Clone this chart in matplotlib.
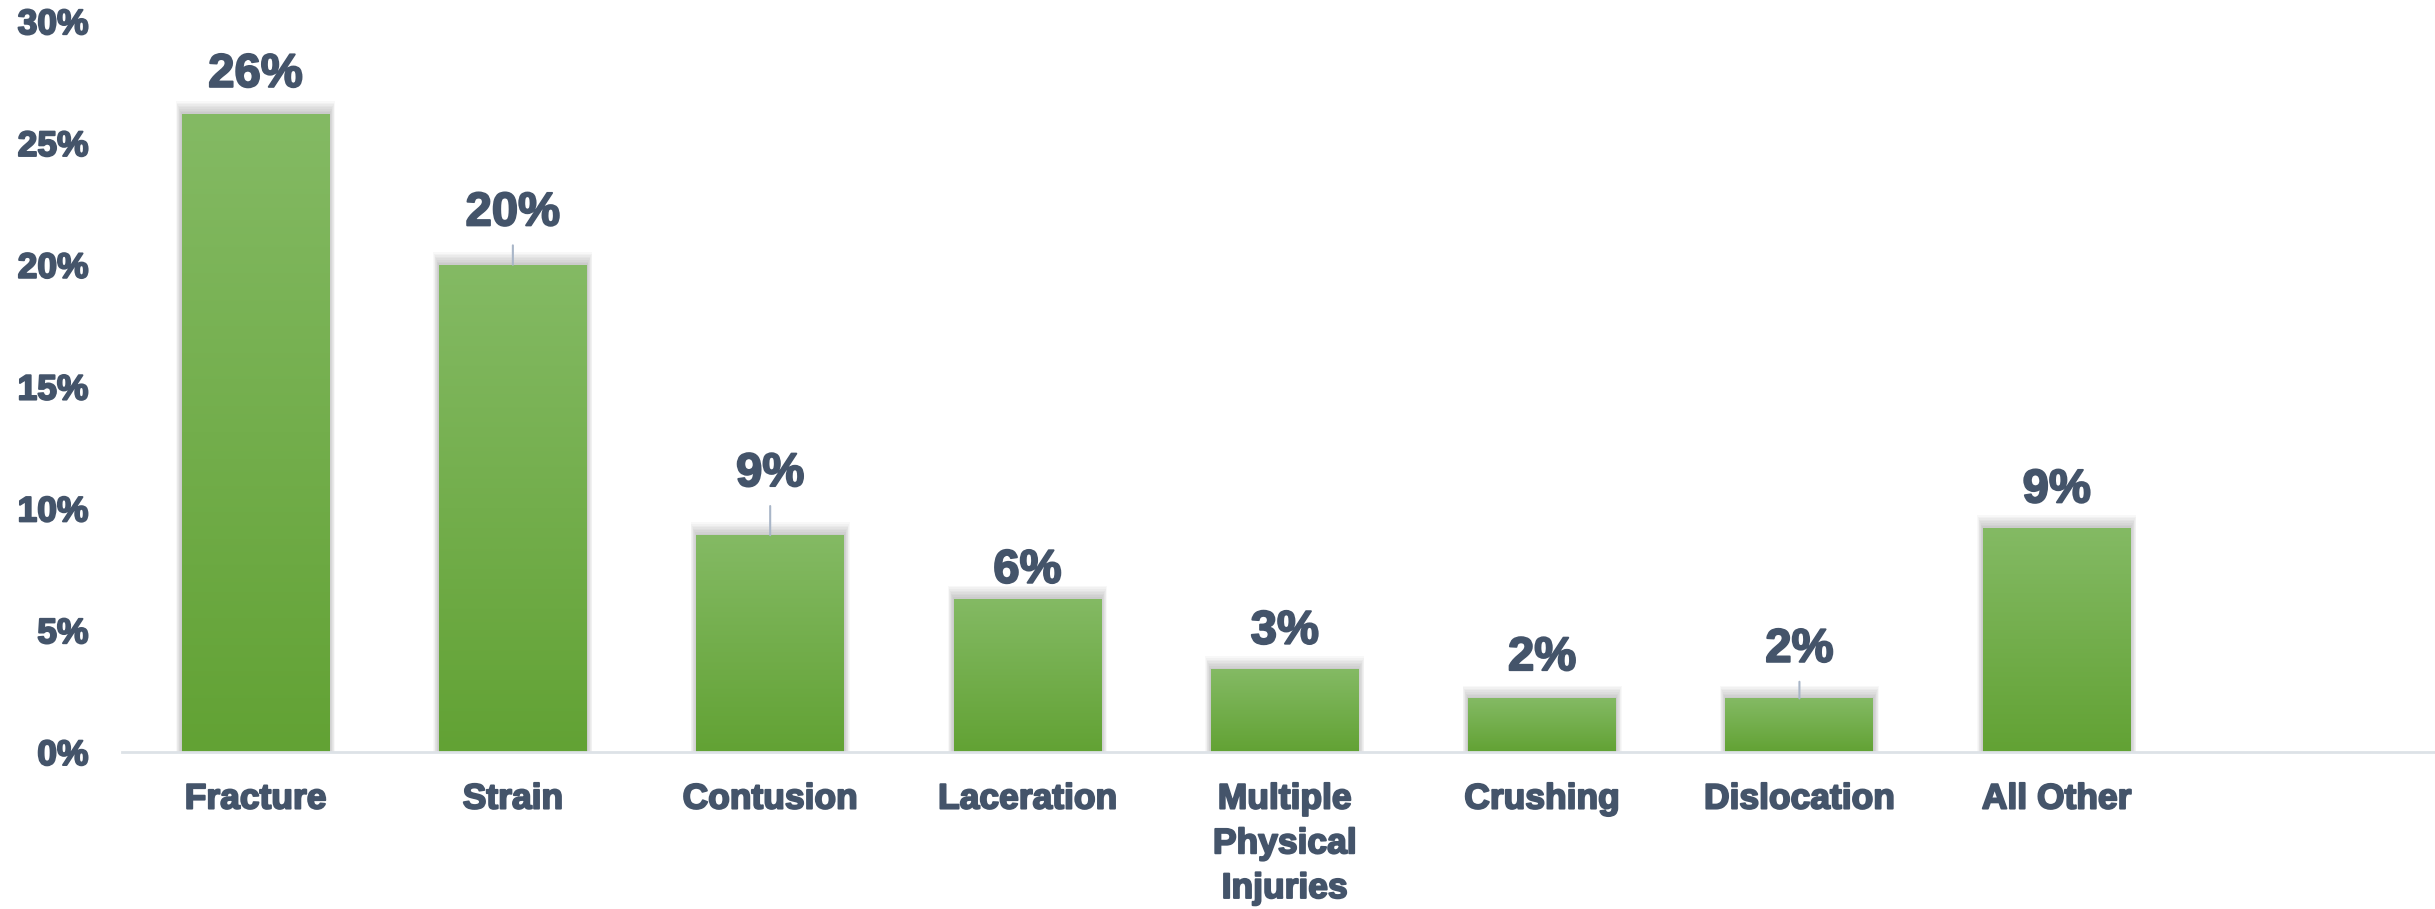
#!/usr/bin/env python
# -*- coding: utf-8 -*-

"""
Injury type share, bar chart with data labels.
"""

import numpy
import matplotlib
matplotlib.use('Agg')
import matplotlib.pyplot as plt
import matplotlib.patheffects as pe
from matplotlib.patches import Rectangle

categories = ['Fracture', 'Strain', 'Contusion', 'Laceration',
              'Multiple\nPhysical\nInjuries', 'Crushing', 'Dislocation', 'All Other']
shares = [26.2, 20.0, 8.9, 6.3, 3.4, 2.2, 2.2, 9.2]
y_ticks = [0, 5, 10, 15, 20, 25, 30]

# label distance above each bar (points), the far ones get a leader line
label_offsets = [28, 37, 44, 20, 27, 29, 35, 27]

TEXT = '#44546A'
TOP = numpy.array([0x84, 0xBA, 0x64]) / 255.
BOTTOM = numpy.array([0x62, 0xA2, 0x34]) / 255.

plt.rcParams['font.family'] = ['Liberation Sans', 'DejaVu Sans']
plt.rcParams['font.weight'] = 'bold'

# slightly heavier strokes on all text
heavy = [pe.withStroke(linewidth=1.4, foreground=TEXT)]

fig = plt.figure(figsize=(24.35, 9.09), dpi=100)
ax = fig.add_axes([0.05, 0.1727, 0.95, 0.804])

x = numpy.arange(len(categories))
width = 0.575

# vertical gradient, light at the top of each bar
grad = numpy.linspace(0, 1, 256)[:, None, None]
grad_img = TOP * (1 - grad) + BOTTOM * grad

px_x = 1.0 / 257.6
px_y = 30.0 / 731.0

for xi, val in zip(x, shares):
    # soft outer shadow, pushed up a little
    for k in range(1, 9):
        ax.add_patch(Rectangle((xi - width / 2 - k * px_x * 0.7, 0),
                               width + 2 * k * px_x * 0.7,
                               val + k * px_y * 1.6,
                               facecolor='#505050', edgecolor='none',
                               alpha=0.04, zorder=1))
    bar = ax.bar(xi, val, width, color=BOTTOM, zorder=2)[0]
    im = ax.imshow(grad_img, extent=(xi - width / 2, xi + width / 2, 0, val),
                   aspect='auto', origin='upper', zorder=3, interpolation='bilinear')
    im.set_clip_path(bar)

ax.set_xlim(-0.52, 8.47)
ax.set_ylim(0, 30)

for xi, val, off in zip(x, shares, label_offsets):
    ax.annotate('{0:.0f}%'.format(val), xy=(xi, val), xytext=(0, off),
                textcoords='offset points', ha='center', va='center',
                fontsize=34, fontweight='bold', color=TEXT, zorder=5,
                path_effects=heavy)
    if off > 32:
        ax.annotate('', xy=(xi, val), xytext=(0, off - 23),
                    textcoords='offset points',
                    arrowprops=dict(arrowstyle='-', color='#A9B6C8', lw=1.5,
                                    shrinkA=0, shrinkB=0), zorder=4)

ax.set_xticks(x)
ax.set_xticklabels(categories, fontsize=25.5, fontweight='bold', color=TEXT,
                   linespacing=1.45, va='top')
ax.set_yticks(y_ticks)
ax.set_yticklabels(['{0}%'.format(t) for t in y_ticks], fontsize=25.5,
                   fontweight='bold', color=TEXT)
for lab in ax.get_xticklabels() + ax.get_yticklabels():
    lab.set_path_effects(heavy)
ax.tick_params(axis='x', length=0, pad=22)
ax.tick_params(axis='y', length=0, pad=24)

for side in ('top', 'right', 'left'):
    ax.spines[side].set_visible(False)
ax.spines['bottom'].set_color('#DDE2E7')
ax.spines['bottom'].set_linewidth(2)
ax.spines['bottom'].set_zorder(4)

fig.savefig('out.png', dpi=100)
